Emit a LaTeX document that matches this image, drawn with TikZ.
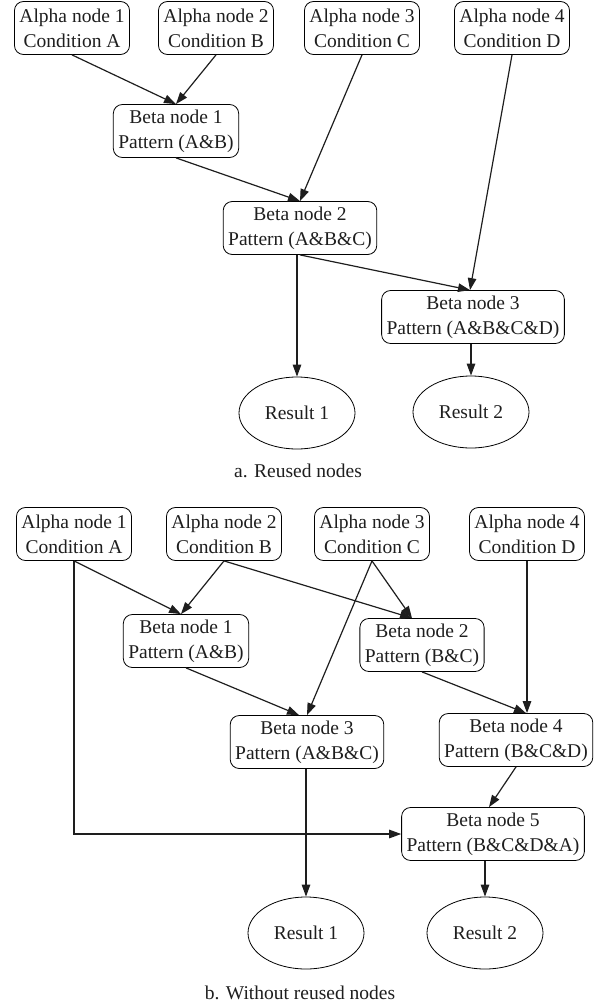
\documentclass[tikz,border=0pt]{standalone}
\usepackage{fontspec}
\setmainfont{Liberation Serif}
\usetikzlibrary{arrows.meta,shapes.geometric}
\definecolor{inkcolor}{RGB}{30,30,30}

\begin{document}
\begin{tikzpicture}[
    x=1pt, y=-1pt,
    every node/.style={font=\fontsize{19.5}{25}\selectfont, text=inkcolor},
    rulebox/.style={draw, rounded corners=9pt, align=center, inner xsep=5pt, inner ysep=0pt, minimum height=53pt, line width=0.8pt},
    resultnode/.style={draw, ellipse, minimum width=116pt, minimum height=72pt, inner sep=0pt, line width=0.8pt},
    link/.style={-{Triangle[length=12pt,width=8.5pt]}, line width=1.2pt, draw=inkcolor},
]
\useasboundingbox (0,0) rectangle (598,1007);

% a. reused nodes
\node[rulebox] (ra1) at (72,28) {Alpha node 1\\Condition A};
\node[rulebox] (ra2) at (216,28) {Alpha node 2\\Condition B};
\node[rulebox] (ra3) at (362,28) {Alpha node 3\\Condition C};
\node[rulebox] (ra4) at (512,28) {Alpha node 4\\Condition D};
\node[rulebox] (rb1) at (176,131) {Beta node 1\\Pattern (A\&B)};
\node[rulebox] (rb2) at (300,228) {Beta node 2\\Pattern (A\&B\&C)};
\node[rulebox] (rb3) at (473,317) {Beta node 3\\Pattern (A\&B\&C\&D)};
\node[resultnode] (rr1) at (297,413) {Result 1};
\node[resultnode] (rr2) at (471,412) {Result 2};
\node (capa) at (298,471) {a. Reused nodes};

\draw[link] (ra1.south) -- (rb1.north);
\draw[link] (ra2.south) -- (rb1.north);
\draw[link] (rb1.south) -- (rb2.north);
\draw[link] (ra3.south) -- (rb2.north);
\draw[link] (ra4.south) -- ([xshift=-3pt]rb3.north);
\draw[link] (rb2.south) -- ([xshift=-3pt]rb3.north);
\draw[link] (rr1.north |- rb2.south) -- (rr1.north);
\draw[link] (rr2.north |- rb3.south) -- (rr2.north);

% b. without reused nodes
\node[rulebox] (wa1) at (74,534) {Alpha node 1\\Condition A};
\node[rulebox] (wa2) at (224,534) {Alpha node 2\\Condition B};
\node[rulebox] (wa3) at (372,534) {Alpha node 3\\Condition C};
\node[rulebox] (wa4) at (527,534) {Alpha node 4\\Condition D};
\node[rulebox] (wb1) at (186,641) {Beta node 1\\Pattern (A\&B)};
\node[rulebox] (wb2) at (422,645) {Beta node 2\\Pattern (B\&C)};
\node[rulebox] (wb3) at (307,742) {Beta node 3\\Pattern (A\&B\&C)};
\node[rulebox] (wb4) at (516,740) {Beta node 4\\Pattern (B\&C\&D)};
\node[rulebox] (wb5) at (493,834) {Beta node 5\\Pattern (B\&C\&D\&A)};
\node[resultnode] (wr1) at (306,933) {Result 1};
\node[resultnode] (wr2) at (485,933) {Result 2};
\node (capb) at (300,993) {b. Without reused nodes};

\draw[link] (wa1.south) -- ([xshift=-5pt]wb1.north);
\draw[link] (wa2.south) -- ([xshift=-5pt]wb1.north);
\draw[link] (wa2.south) -- ([xshift=-10pt]wb2.north);
\draw[link] (wa3.south) -- ([xshift=-10pt]wb2.north);
\draw[link] (wa3.south) -- (wb3.north);
\draw[link] (wb1.south) -- ([xshift=-8pt]wb3.north);
\draw[link] (wb2.south) -- ([xshift=10pt]wb4.north);
\draw[link] (wa4.south) -- (wa4.south |- wb4.north);
\draw[link] (wb4.south) -- ([xshift=-4pt]wb5.north);
\draw[link] (wa1.south) |- (wb5.west);
\draw[link] (wr1.north |- wb3.south) -- (wr1.north);
\draw[link] (wr2.north |- wb5.south) -- (wr2.north);
\end{tikzpicture}
\end{document}
